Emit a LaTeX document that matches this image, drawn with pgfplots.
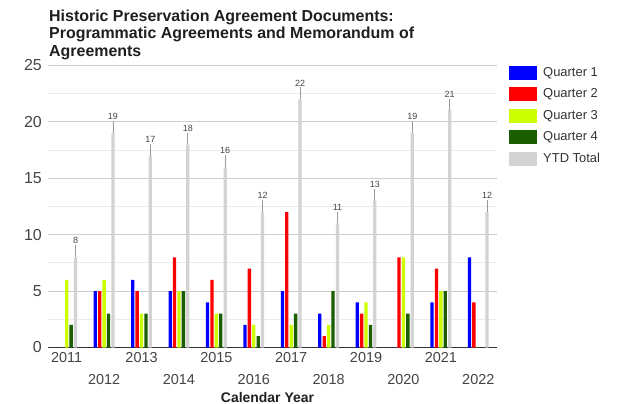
\documentclass[border=0pt]{standalone}
\usepackage{pgfplots}
\pgfplotsset{compat=1.18}
\usepackage{pgfplotstable}
\usepackage{fontspec}
\setmainfont{Liberation Sans}
\definecolor{qone}{HTML}{0000FF}
\definecolor{qtwo}{HTML}{FF0000}
\definecolor{qthree}{HTML}{CCFF00}
\definecolor{qfour}{HTML}{1B5E00}
\definecolor{ytd}{HTML}{D3D3D3}
\definecolor{txt}{HTML}{444444}
\definecolor{majgrid}{HTML}{CCCCCC}
\definecolor{mingrid}{HTML}{EBEBEB}

\pgfplotstableread{
x q1 q2 q3 q4 ytd
0 0 0 6 2 8
1 5 5 6 3 19
2 6 5 3 3 17
3 5 8 5 5 18
4 4 6 3 3 16
5 2 7 2 1 12
6 5 12 2 3 22
7 3 1 2 5 11
8 4 3 4 2 13
9 0 8 8 3 19
10 4 7 5 5 21
11 8 4 0 0 12
}\data

\begin{document}
\begin{tikzpicture}
\useasboundingbox (0bp,0bp) rectangle (618bp,404bp);
\node[anchor=north west, align=left, inner sep=0pt, text=black!88,
  font=\bfseries\fontsize{16}{17.6}\selectfont] at (49bp,394.5bp)
  {Historic Preservation Agreement Documents:\\Programmatic Agreements and Memorandum of\\Agreements};
\begin{axis}[
  at={(48bp,56.5bp)}, anchor=south west,
  width=449bp, height=282bp, scale only axis,
  /pgf/number format/assume math mode=true,
  ybar=1.1bp, bar width=3.3bp,
  every axis plot post/.append style={legend image code/.code={\fill[##1] (0bp,-7bp) rectangle (28bp,7bp); \path (33bp,0bp);}},
  xmin=-0.5, xmax=11.5, ymin=0, ymax=25,
  clip=false,
  axis x line*=bottom, axis y line*=left,
  y axis line style={draw=none},
  x axis line style={draw=black!80, line width=1.3bp},
  major tick length=0, minor tick length=0,
  ytick={0,5,...,25},
  minor ytick={2.5,7.5,...,22.5},
  ymajorgrids, yminorgrids,
  major grid style={draw=majgrid, line width=1bp},
  minor grid style={draw=mingrid, line width=1bp},
  yticklabel style={font=\fontsize{16}{18}\selectfont, text=txt, xshift=-2.7bp},
  xtick={0,2,4,6,8,10},
  xticklabels={2011,2013,2015,2017,2019,2021},
  extra x ticks={1,3,5,7,9,11},
  extra x tick labels={2012,2014,2016,2018,2020,2022},
  xticklabel style={font=\fontsize{14.5}{17}\selectfont, text=txt, yshift=-1.5bp},
  extra x tick style={xticklabel style={yshift=-22bp}},
  xlabel={Calendar Year},
  xlabel style={at={(rel axis cs:0.5,0)}, anchor=base, yshift=-54.5bp, xshift=-5bp,
    font=\bfseries\fontsize{14}{16}\selectfont, text=black!88},
  legend style={draw=none, fill=none, at={(rel axis cs:1,1)}, anchor=north west,
    xshift=12bp, yshift=0bp, inner sep=0pt, row sep=7.5bp,
    font=\fontsize{13}{15}\selectfont, text=black!80,
    nodes={inner sep=1bp}},
  legend cell align=left,
]
\addplot[fill=qone, draw=none] table[x=x, y=q1] {\data};
\addplot[fill=qtwo, draw=none] table[x=x, y=q2] {\data};
\addplot[fill=qthree, draw=none] table[x=x, y=q3] {\data};
\addplot[fill=qfour, draw=none] table[x=x, y=q4] {\data};
\addplot[fill=ytd, draw=none,
  nodes near coords,
  nodes near coords style={anchor=south, yshift=12bp, inner sep=1bp,
    font=\fontsize{9}{10}\selectfont, text=txt},
  error bars/.cd, y dir=plus, y fixed=1.05, error mark=none,
  error bar style={draw=black!40, line width=0.8bp}]
  table[x=x, y=ytd] {\data};
\legend{Quarter 1, Quarter 2, Quarter 3, Quarter 4, YTD Total}
\end{axis}
\end{tikzpicture}
\end{document}
